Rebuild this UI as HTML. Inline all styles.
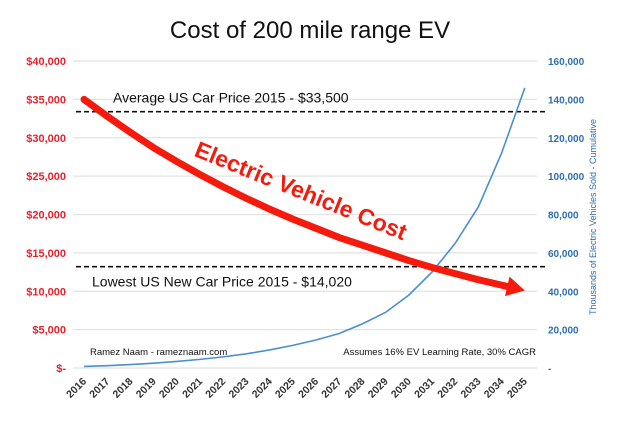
<!DOCTYPE html>
<html><head><meta charset="utf-8"><style>
body{margin:0;background:#fff;width:619px;height:426px;overflow:hidden;font-family:"Liberation Sans",sans-serif;position:relative}
</style></head><body>
<svg id="chart" width="619" height="426" xmlns="http://www.w3.org/2000/svg" font-family="Liberation Sans, sans-serif">
<text x="310" y="38" text-anchor="middle" font-size="24" fill="#111">Cost of 200 mile range EV</text>
<g id="grid"></g><g id="axes"></g><g id="marks"></g>
</svg>
<script>
const years=["2016","2017","2018","2019","2020","2021","2022","2023","2024","2025","2026","2027","2028","2029","2030","2031","2032","2033","2034","2035"];
const evCost=[35000,32800,30700,28700,26900,25200,23600,22100,20700,19400,18200,17000,16000,15000,14000,13100,12300,11500,10800,10100];
const evSold=[800,1200,1800,2500,3400,4500,5800,7400,9400,11800,14600,18000,23000,29000,38000,50000,65000,84000,112000,146000];
const leftTicks=[0,5000,10000,15000,20000,25000,30000,35000,40000];
const leftTickLabels=["$-","$5,000","$10,000","$15,000","$20,000","$25,000","$30,000","$35,000","$40,000"];
const rightTicks=[0,20000,40000,60000,80000,100000,120000,140000,160000];
const rightTickLabels=["-","20,000","40,000","60,000","80,000","100,000","120,000","140,000","160,000"];
const refValues=[33400,13200];
const refLabels=["Average US Car Price 2015 - $33,500","Lowest US New Car Price 2015 - $14,020"];
const NS="http://www.w3.org/2000/svg";
const plotTop=61,plotBot=368,x0=84,step=23.2;
const yL=v=>plotBot-(v/40000)*(plotBot-plotTop);
const yR=v=>plotBot-(v/160000)*(plotBot-plotTop);
const xC=i=>x0+i*step;
function mk(t,a,p){const e=document.createElementNS(NS,t);for(const k in a)e.setAttribute(k,a[k]);p.appendChild(e);return e;}
const grid=document.getElementById('grid'),axes=document.getElementById('axes'),marks=document.getElementById('marks');
leftTicks.forEach((v,i)=>{
 const l=mk('line',{x1:73,x2:537,y1:yL(v),y2:yL(v),stroke:'#e2e2e2','stroke-width':1.3},grid);
 
 
 const t=mk('text',{x:66,y:yL(v)+4,'text-anchor':'end','font-size':11,'font-weight':'bold',fill:'#e8202a'},axes);
 t.textContent=leftTickLabels[i];
 
 
});
rightTicks.forEach((v,i)=>{
 const t=mk('text',{x:548,y:yR(v)+4,'font-size':10,'font-weight':'bold',fill:'#2e6eae'},axes);
 t.textContent=rightTickLabels[i];
 
 
});
years.forEach((y,i)=>{
 const x=xC(i)+3,yy=382;
 const t=mk('text',{x:x,y:yy,'text-anchor':'end','font-size':10.5,'font-weight':'bold',fill:'#333',transform:`rotate(-45 ${x} ${yy})`},axes);
 t.textContent=y;
 
 
});
const rt=mk('text',{x:596,y:217,'text-anchor':'middle','font-size':9,fill:'#2e6eae',transform:'rotate(-90 596 217)'},axes);
rt.textContent="Thousands of Electric Vehicles Sold - Cumulative";


refValues.forEach((v,i)=>{
 const y=yL(v);
 const l=mk('line',{x1:76,x2:547,y1:y,y2:y,stroke:'#111','stroke-width':1.6,'stroke-dasharray':'5,3'},marks);
 
 
 const t=mk('text',{x:i==0?113:92,y:i==0?y-9:y+20,'font-size':14,fill:'#111'},marks);
 t.textContent=refLabels[i];
 
 
});
const bp=mk('polyline',{points:evSold.map((v,i)=>xC(i)+','+yR(v)).join(' '),fill:'none',stroke:'#4a8fd0','stroke-width':1.6},marks);


const n=evCost.length;
const ptsR=evCost.map((v,i)=>[xC(i),yL(v)]);
const last=ptsR[n-1],prev=ptsR[n-2];
const dx=last[0]-prev[0],dy=last[1]-prev[1],len=Math.hypot(dx,dy),ux=dx/len,uy=dy/len;
const base=[last[0]-ux*18,last[1]-uy*18];
const rp=mk('polyline',{points:ptsR.slice(0,n-1).map(p=>p.join(',')).join(' ')+' '+base.join(','),fill:'none',stroke:'#f41a0c','stroke-width':7,'stroke-linecap':'round','stroke-linejoin':'round'},marks);


const ah=mk('polygon',{points:`${last[0]},${last[1]} ${base[0]-uy*10},${base[1]+ux*10} ${base[0]+uy*10},${base[1]-ux*10}`,fill:'#f41a0c'},marks);


</script>
<svg style="position:absolute;left:0;top:0" width="619" height="426">
<text x="0" y="0" text-anchor="middle" font-size="23" font-weight="bold" fill="#f41a0c" font-family="Liberation Sans, sans-serif" transform="translate(298 198) rotate(22)">Electric Vehicle Cost</text>
<text x="90" y="355" font-size="9.5" fill="#111" font-family="Liberation Sans, sans-serif">Ramez Naam - rameznaam.com</text>
<text x="536" y="355" text-anchor="end" font-size="9.5" fill="#111" font-family="Liberation Sans, sans-serif">Assumes 16% EV Learning Rate, 30% CAGR</text>
</svg>
</body></html>
